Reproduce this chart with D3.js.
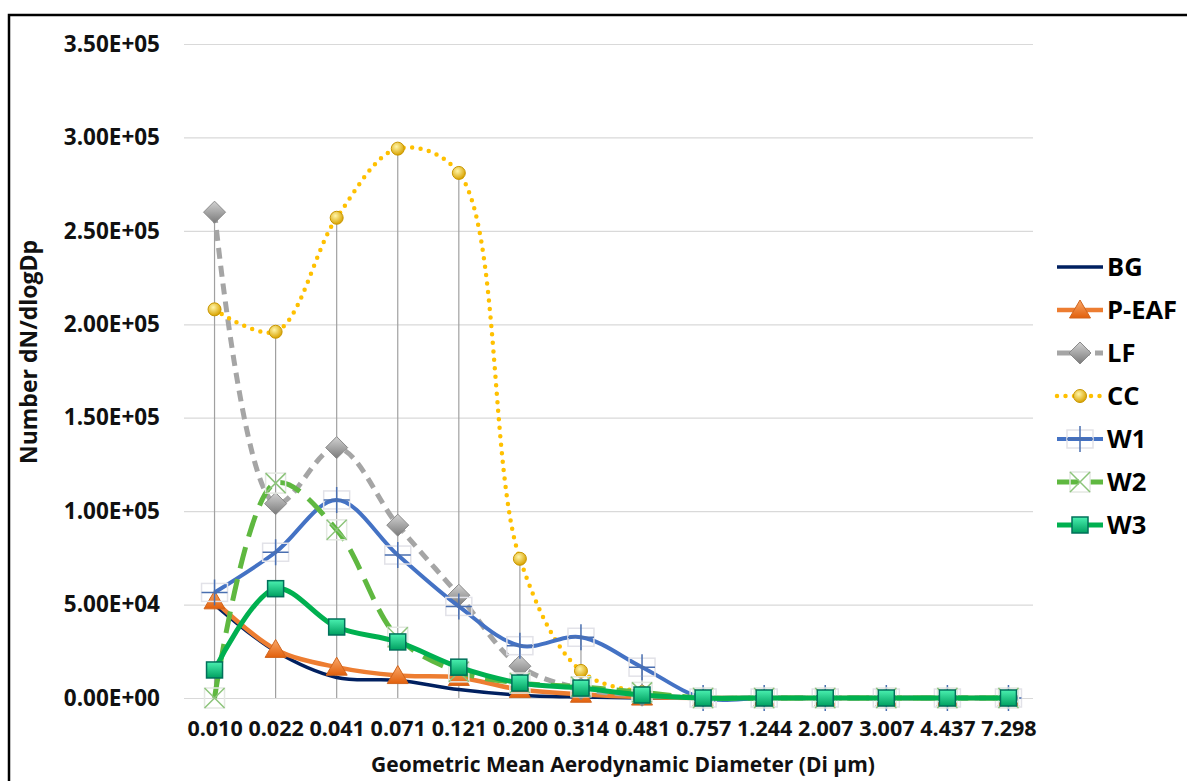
<!DOCTYPE html>
<html>
<head>
<meta charset="utf-8">
<script src="https://cdn.jsdelivr.net/npm/d3@7.9.0/dist/d3.min.js"></script>
<style>
  body { margin: 0; background: #fff; }
  svg { display: block; font-family: 'Open Sans', sans-serif; font-weight: 700; }
</style>
</head>
<body>
<svg id="chart" width="1187" height="781"></svg>
<script>
const categories = ['0.010', '0.022', '0.041', '0.071', '0.121', '0.200', '0.314',
  '0.481', '0.757', '1.244', '2.007', '3.007', '4.437', '7.298'];

const bg   = [50000, 25000, 11000, 9500, 4500, 1500, 500, 0, 0, 0, 0, 0, 0, 0];
const peaf = [52000, 26000, 16500, 12000, 11000, 4500, 2000, 500, 0, 0, 0, 0, 0, 0];
const lf   = [260000, 104000, 134000, 92500, 55000, 17000, 5000, 1500, 0, 0, 0, 0, 0, 0];
const cc   = [208000, 196000, 257000, 294000, 281000, 74500, 14500, 3000, 0, 0, 0, 0, 0, 0];
const w1   = [56500, 78000, 106000, 76500, 49000, 28000, 32500, 16500, 0, 0, 0, 0, 0, 0];
const w2   = [0, 115000, 90000, 32500, 14000, 8000, 6000, 3000, 0, 0, 0, 0, 0, 0];
const w3   = [15000, 58500, 38000, 30000, 16500, 8000, 5300, 1600, 0, 0, 0, 0, 0, 0];

const yTicks = [0, 50000, 100000, 150000, 200000, 250000, 300000, 350000];

const series = [
  { name: 'BG', values: bg, color: '#002060', width: 3.5, dash: null, marker: null },
  { name: 'P-EAF', values: peaf, color: '#ed7d31', width: 4.5, dash: null, marker: 'tri' },
  { name: 'LF', values: lf, color: '#a5a5a5', width: 5, dash: '11 7', marker: 'diamond' },
  { name: 'CC', values: cc, color: '#ffc000', width: 4.5, dash: '0 8.5', cap: 'round', marker: 'circle' },
  { name: 'W1', values: w1, color: '#4472c4', width: 4, dash: null, marker: 'plus' },
  { name: 'W2', values: w2, color: '#5fb840', width: 5, dash: '22 11', marker: 'cross' },
  { name: 'W3', values: w3, color: '#00b050', width: 5, dash: null, marker: 'square' },
];

const svg = d3.select('#chart');

// gradients for the markers
const defs = svg.append('defs');
function linGrad(id, c1, c2) {
  const g = defs.append('linearGradient').attr('id', id)
    .attr('x1', 0).attr('y1', 0).attr('x2', 0).attr('y2', 1);
  g.append('stop').attr('offset', '0%').attr('stop-color', c1);
  g.append('stop').attr('offset', '100%').attr('stop-color', c2);
}
linGrad('gTri', '#f9a86a', '#e2600c');
linGrad('gDia', '#d2d2d2', '#7a7a7a');
linGrad('gSq', '#4af0b0', '#00a060');
const rg = defs.append('radialGradient').attr('id', 'gCirc').attr('cx', '40%').attr('cy', '35%').attr('r', '65%');
rg.append('stop').attr('offset', '0%').attr('stop-color', '#fff5a8');
rg.append('stop').attr('offset', '100%').attr('stop-color', '#d9a300');

// frame
svg.append('rect').attr('x', 9).attr('y', 15).attr('width', 1200).attr('height', 800)
  .attr('fill', 'none').attr('stroke', '#000').attr('stroke-width', 2.5);

const x = d3.scalePoint().domain(categories).range([184, 1039]).padding(0.5);
const y = d3.scaleLinear().domain([0, 350000]).range([698, 44]);

function sci(d) {
  if (d === 0) return '0.00E+00';
  const e = Math.floor(Math.log10(d));
  return (d / Math.pow(10, e)).toFixed(2) + 'E+' + String(e).padStart(2, '0');
}

// gridlines
svg.append('g').attr('transform', 'translate(184,0)')
  .call(d3.axisLeft(y).tickValues(yTicks).tickSize(-849).tickFormat(''))
  .call(g => g.select('.domain').remove())
  .call(g => g.selectAll('line').attr('stroke', '#d9d9d9').attr('stroke-width', 1.2));

// y axis labels
svg.append('g').attr('transform', 'translate(184,0)')
  .call(d3.axisLeft(y).tickValues(yTicks).tickSize(0).tickPadding(24).tickFormat(sci))
  .call(g => g.select('.domain').remove())
  .call(g => g.selectAll('text').attr('font-size', 22.5).attr('fill', '#111')
    .attr('font-family', "'Open Sans', sans-serif").attr('font-weight', 700));

// x axis labels
svg.append('g').attr('transform', 'translate(0,698)')
  .call(d3.axisBottom(x).tickSize(0).tickPadding(23))
  .call(g => g.select('.domain').remove())
  .call(g => g.selectAll('text').attr('font-size', 21.5).attr('fill', '#111')
    .attr('font-family', "'Open Sans', sans-serif").attr('font-weight', 700));

// drop lines from the highest point of each category
svg.append('g').selectAll('line')
  .data(categories.map((c, i) => ({ c, max: d3.max(series, s => s.values[i]) })).filter(d => d.max > 0))
  .join('line')
  .attr('x1', d => x(d.c)).attr('x2', d => x(d.c))
  .attr('y1', d => y(d.max)).attr('y2', y(0))
  .attr('stroke', '#a0a0a0').attr('stroke-width', 1.2);

function drawMarker(g, type, cx, cy, s) {
  const k = s || 1;
  if (type === 'tri') {
    g.append('path').attr('d', `M${cx},${cy - 10 * k}L${cx + 10.5 * k},${cy + 8 * k}L${cx - 10.5 * k},${cy + 8 * k}Z`)
      .attr('fill', 'url(#gTri)').attr('stroke', '#d0651e').attr('stroke-width', 1);
  } else if (type === 'diamond') {
    g.append('path').attr('d', `M${cx},${cy - 11 * k}L${cx + 11 * k},${cy}L${cx},${cy + 11 * k}L${cx - 11 * k},${cy}Z`)
      .attr('fill', 'url(#gDia)').attr('stroke', '#8a8a8a').attr('stroke-width', 1);
  } else if (type === 'circle') {
    g.append('circle').attr('cx', cx).attr('cy', cy).attr('r', 6.5 * k)
      .attr('fill', 'url(#gCirc)').attr('stroke', '#c89600').attr('stroke-width', 1);
  } else if (type === 'plus') {
    if (k === 1) {
      g.append('rect').attr('x', cx - 13).attr('y', cy - 9).attr('width', 26).attr('height', 18)
        .attr('fill', 'none').attr('stroke', '#e2e2e8').attr('stroke-width', 1.5);
    }
    g.append('path').attr('d', `M${cx - 13 * k},${cy}H${cx + 13 * k}M${cx},${cy - 13 * k}V${cy + 13 * k}`)
      .attr('stroke', '#4a6fb0').attr('stroke-width', 1.5);
  } else if (type === 'cross') {
    if (k === 1) {
      g.append('rect').attr('x', cx - 10).attr('y', cy - 10).attr('width', 20).attr('height', 20)
        .attr('fill', 'none').attr('stroke', '#e4e8e2').attr('stroke-width', 1.5);
    }
    g.append('path').attr('d', `M${cx - 10 * k},${cy - 10 * k}L${cx + 10 * k},${cy + 10 * k}M${cx + 10 * k},${cy - 10 * k}L${cx - 10 * k},${cy + 10 * k}`)
      .attr('stroke', '#8cc47a').attr('stroke-width', 1.5);
  } else if (type === 'square') {
    g.append('rect').attr('x', cx - 8 * k).attr('y', cy - 8 * k).attr('width', 16 * k).attr('height', 16 * k)
      .attr('fill', 'url(#gSq)').attr('stroke', '#00705a').attr('stroke-width', 1.5);
  }
}

const line = d3.line()
  .x((d, i) => x(categories[i]))
  .y(d => y(d))
  .curve(d3.curveCatmullRom.alpha(0.5));

series.forEach(s => {
  const g = svg.append('g');
  g.append('path').datum(s.values)
    .attr('d', line)
    .attr('fill', 'none')
    .attr('stroke', s.color)
    .attr('stroke-width', s.width)
    .attr('stroke-linecap', s.cap || 'butt')
    .attr('stroke-dasharray', s.dash);
  if (s.marker) {
    s.values.forEach((v, i) => drawMarker(g, s.marker, x(categories[i]), y(v)));
  }
});

// legend
const legend = svg.append('g');
series.forEach((s, i) => {
  const cy = 267 + i * 43;
  legend.append('line').attr('x1', 1057).attr('x2', 1103).attr('y1', cy).attr('y2', cy)
    .attr('stroke', s.color).attr('stroke-width', s.width)
    .attr('stroke-linecap', s.cap || 'butt')
    .attr('stroke-dasharray', s.dash ? (s.name === 'LF' ? '14 5' : s.dash) : null);
  if (s.marker) drawMarker(legend, s.marker, 1080, cy, 1);
  legend.append('text').attr('x', 1107).attr('y', cy + 9)
    .attr('font-size', 25.5).attr('fill', '#000').text(s.name);
});

// axis titles
svg.append('text').attr('x', 623).attr('y', 772).attr('text-anchor', 'middle')
  .attr('font-size', 21).attr('fill', '#111')
  .text('Geometric Mean Aerodynamic Diameter (Di µm)');

svg.append('text').attr('transform', 'translate(37,352) rotate(-90)').attr('text-anchor', 'middle')
  .attr('font-size', 23).attr('fill', '#111')
  .text('Number dN/dlogDp');
</script>
</body>
</html>
